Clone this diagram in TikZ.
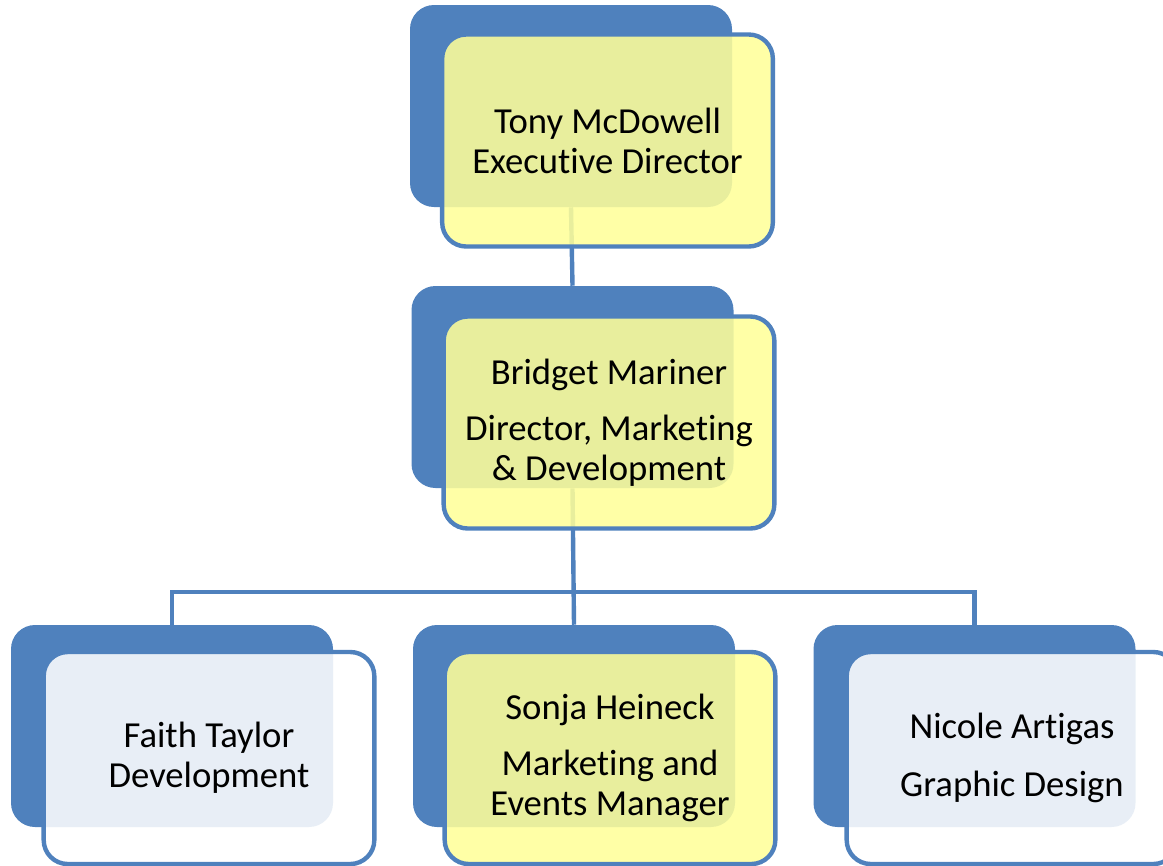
\documentclass[tikz,border=0pt]{standalone}
\usepackage{fontspec}
\setmainfont{Carlito}[Ligatures=NoCommon]
\definecolor{Steel}{HTML}{4F81BD}
\definecolor{Lemon}{HTML}{FFFF99}
\usetikzlibrary{positioning,calc}

\begin{document}
\begin{tikzpicture}[
    x=0.75pt, y=-0.75pt,
    back/.style={rectangle, rounded corners=18pt, fill=Steel, minimum width=241.5pt, minimum height=151.5pt, inner sep=0pt},
    front/.style={rectangle, rounded corners=18pt, draw=Steel, line width=3.3pt, fill opacity=0.87, text opacity=1, minimum width=248pt, minimum height=159pt, align=center, font=\fontsize{27.5}{30}\selectfont},
    yellowbox/.style={front, fill=Lemon},
    whitebox/.style={front, fill=white},
    link/.style={Steel, line width=3.3pt},
]
    \clip (0,0) rectangle (1163,865);

    % back plates
    \node[back] (tonyback) at (571,106) {};
    \node[back] (bridgetback) at (572.5,387) {};
    \node[back] (faithback) at (172,726) {};
    \node[back] (sonjaback) at (574,726) {};
    \node[back] (nicoleback) at (974.5,726) {};

    % connectors
    \coordinate (bus) at (0,592);
    \draw[link] (tonyback.south) -- (bridgetback.north);
    \draw[link] (bridgetback.south) -- (sonjaback.north);
    \draw[link] (faithback.north) |- (bus -| bridgetback.south) -| (nicoleback.north);

    % front boxes
    \node[yellowbox] (tony) at ($(tonyback)+(36.5,34.5)$) {Tony McDowell\\Executive Director};
    \node[yellowbox] (bridget) at ($(bridgetback)+(36.5,35.5)$) {Bridget Mariner\\[12pt]Director, Marketing\\\& Development};
    \node[whitebox] (faith) at ($(faithback)+(37,32)$) {Faith Taylor\\Development};
    \node[yellowbox] (sonja) at ($(sonjaback)+(36,32)$) {Sonja Heineck\\[12pt]Marketing and\\Events Manager};
    \node[whitebox] (nicole) at ($(nicoleback)+(37.5,32)$) {Nicole Artigas\\[13pt]Graphic Design};
\end{tikzpicture}
\end{document}
